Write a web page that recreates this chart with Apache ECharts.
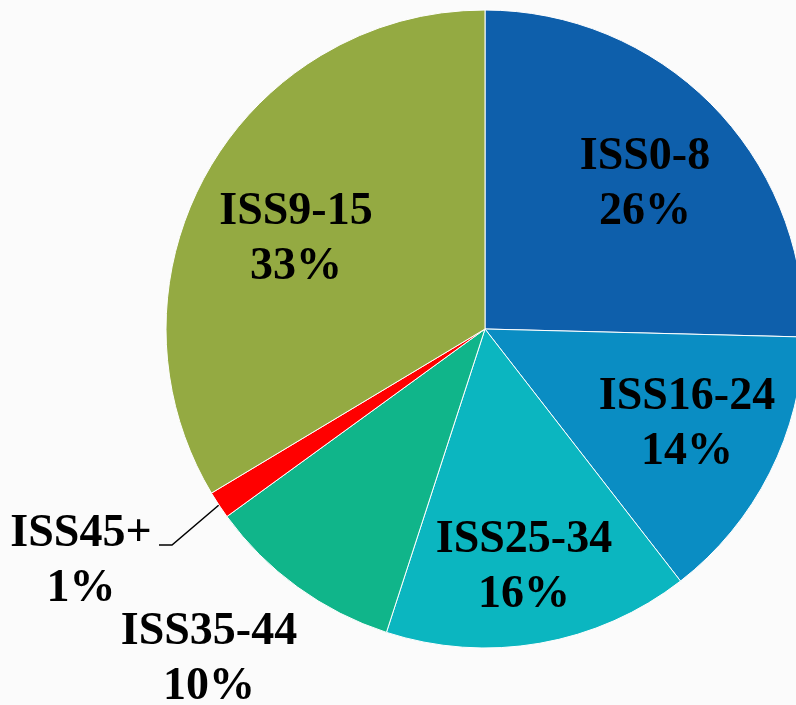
<!DOCTYPE html>
<html>
<head>
<meta charset="utf-8">
<script src="https://cdn.jsdelivr.net/npm/echarts@6/dist/echarts.min.js"></script>
<style>
html,body{margin:0;padding:0;background:#fbfbfb;}
#chart{width:796px;height:705px;}
</style>
</head>
<body>
<div id="chart"></div>
<script>
const categories = ['ISS0-8', 'ISS16-24', 'ISS25-34', 'ISS35-44', 'ISS45+', 'ISS9-15'];
const values = [25.4, 14.1, 15.5, 10.0, 1.4, 33.6];
const pctLabels = ['26%', '14%', '16%', '10%', '1%', '33%'];

const colors = ['#0E5FAB', '#0A8DC3', '#0BB6C0', '#10B58A', '#FF0000', '#94AA42'];
const CX = 485, CY = 329, R = 319;
// label anchor positions (text block centres)
const labelAnchors = [[645, 185], [687, 425], [524, 568], [209, 660], [81, 562], [296, 240]];

const total = values.reduce((a, b) => a + b, 0);
function midAngle(i) {
  let s = 0;
  for (let k = 0; k < i; k++) s += values[k];
  return ((s + values[i] / 2) / total) * 2 * Math.PI; // clockwise from top
}

const chart = echarts.init(document.getElementById('chart'), null, {renderer: 'canvas'});
chart.setOption({
  backgroundColor: '#fbfbfb',
  animation: false,
  series: [{
    type: 'pie',
    center: [CX, CY],
    radius: R,
    startAngle: 90,
    clockwise: true,
    avoidLabelOverlap: false,
    itemStyle: {borderColor: '#ffffff', borderWidth: 1},
    label: {
      show: true,
      position: 'inside',
      formatter: p => p.name + '\n' + pctLabels[p.dataIndex],
      fontFamily: 'Liberation Serif',
      fontWeight: 'bold',
      fontSize: 46,
      lineHeight: 55,
      color: '#000000',
      align: 'center'
    },
    labelLine: {show: false},
    labelLayout: function (params) {
      const i = params.dataIndex;
      const out = {x: labelAnchors[i][0], y: labelAnchors[i][1], align: 'center', verticalAlign: 'middle'};
      if (i === 4) {
        const a = midAngle(i);
        const p0 = [CX + R * Math.sin(a), CY - R * Math.cos(a)];
        out.labelLinePoints = [p0, [172, 545], [159, 545]];
      }
      return out;
    },
    data: categories.map((c, i) => ({
      name: c,
      value: values[i],
      itemStyle: {color: colors[i]},
      labelLine: i === 4 ? {show: true, lineStyle: {color: '#000000', width: 1.5}} : {show: false},
      label: i === 4 || i === 3 ? {position: 'outside'} : {}
    }))
  }]
});
</script>
</body>
</html>
